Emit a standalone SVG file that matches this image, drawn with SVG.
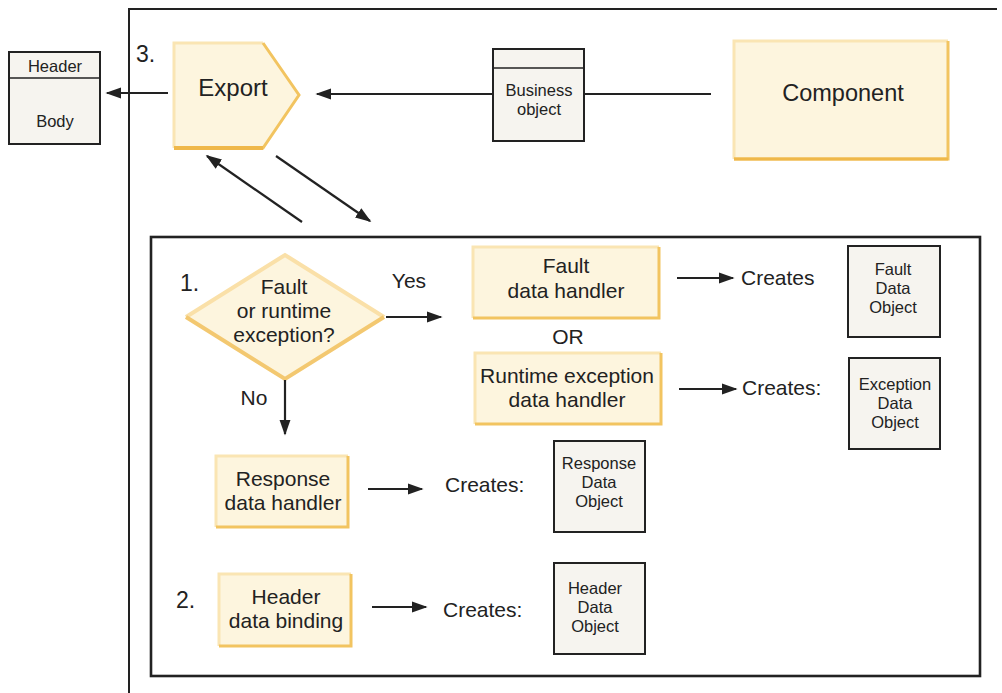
<svg xmlns="http://www.w3.org/2000/svg" width="1002" height="693" viewBox="0 0 1002 693">
<defs>
<marker id="ahb" viewBox="0 0 10 10" refX="9" refY="5" markerWidth="16" markerHeight="16" orient="auto" markerUnits="userSpaceOnUse">
<path d="M0,1.5 L10,5 L0,8.5 z" fill="#222"/>
</marker>
<style>
text{font-family:"Liberation Sans",Arial,sans-serif;fill:#222;text-anchor:middle}
.t20{font-size:21px}
.t19{font-size:21px}
.t15{font-size:16.5px}
.t22{font-size:24px}
.t23{font-size:23.5px}
.num{font-size:23px;text-anchor:start}
.lbl{font-size:21px;text-anchor:start}
.yf{fill:#fdf5de}
.lt{stroke:#fae5b3;stroke-width:3;fill:none}
.dk{stroke:#f2c460;stroke-width:3;fill:none}
.obj{fill:#f6f4ef;stroke:#222;stroke-width:2}
.con{stroke:#222;stroke-width:2.2;fill:none}
.arr{stroke:#222;stroke-width:2.2;fill:none;marker-end:url(#ahb)}
</style>
</defs>

<g id="frame">
<polyline points="129,693 129,9 997,9" fill="none" stroke="#222" stroke-width="2"/>
</g>

<g id="inner">
<rect x="151" y="237" width="829" height="439" fill="none" stroke="#222" stroke-width="2.6"/>
</g>

<g id="headerbody">
<rect x="9" y="52" width="91" height="92" class="obj"/>
<line x1="9" y1="78" x2="100" y2="78" stroke="#222" stroke-width="1.5"/>
<text x="55" y="72" class="t15">Header</text>
<text x="55" y="127" class="t15">Body</text>
</g>

<g id="label3"><text x="136" y="62" class="num">3.</text></g>

<g id="export">
<polygon points="174,43 263,43 299,95 263,148 174,148" class="yf"/>
<polyline points="174,148 174,43 263,43" class="lt"/>
<polyline points="263,43 299,95 263,148 174,148" class="dk"/>
<line x1="174" y1="148" x2="263" y2="148" stroke="#efb84a" stroke-width="4"/>
<text x="233" y="96" class="t22">Export</text>
</g>

<g id="businessobject">
<rect x="493" y="49" width="91" height="92" class="obj"/>
<line x1="493" y1="68" x2="584" y2="68" stroke="#222" stroke-width="1.5"/>
<text x="539" y="96" class="t15">Business</text>
<text x="539" y="115" class="t15">object</text>
</g>

<g id="component">
<rect x="734" y="41" width="214" height="118" class="yf"/>
<polyline points="734,159 734,41 948,41" class="lt"/>
<polyline points="948,41 948,159 734,159" class="dk"/>
<line x1="734" y1="159" x2="948" y2="159" stroke="#efb84a" stroke-width="3"/>
<text x="843" y="101" class="t23">Component</text>
</g>

<g id="decision">
<polygon points="186,317 285,255 384,317 285,379" class="yf"/>
<polyline points="186,317 285,255 384,317" stroke="#fae0a8" stroke-width="4" fill="none"/>
<polyline points="384,317 285,379 186,317" stroke="#f3c870" stroke-width="4" fill="none"/>
<text x="284" y="294" class="t19">Fault</text>
<text x="284" y="318" class="t19">or runtime</text>
<text x="284" y="342" class="t19">exception?</text>
</g>

<g id="label1"><text x="180" y="291" class="num">1.</text></g>
<g id="yes"><text x="409" y="288" class="t19">Yes</text></g>
<g id="no"><text x="254" y="405" class="t19">No</text></g>

<g id="faulthandler">
<rect x="473" y="247" width="186" height="71" class="yf"/>
<polyline points="473,318 473,247 659,247" class="lt"/>
<polyline points="659,247 659,318 473,318" class="dk"/>
<text x="566" y="273" class="t20">Fault</text>
<text x="566" y="298" class="t20">data handler</text>
</g>

<g id="or"><text x="568" y="344" class="t20">OR</text></g>

<g id="runtimehandler">
<rect x="475" y="353" width="186" height="71" class="yf"/>
<polyline points="475,424 475,353 661,353" class="lt"/>
<polyline points="661,353 661,424 475,424" class="dk"/>
<text x="567" y="383" class="t20">Runtime exception</text>
<text x="567" y="407" class="t20">data handler</text>
</g>

<g id="responsehandler">
<rect x="216" y="456" width="132" height="71" class="yf"/>
<polyline points="216,527 216,456 348,456" class="lt"/>
<polyline points="348,456 348,527 216,527" class="dk"/>
<text x="283" y="486" class="t20">Response</text>
<text x="283" y="510" class="t20">data handler</text>
</g>

<g id="label2"><text x="176" y="608" class="num">2.</text></g>

<g id="headerbinding">
<rect x="219" y="574" width="132" height="72" class="yf"/>
<polyline points="219,646 219,574 351,574" class="lt"/>
<polyline points="351,574 351,646 219,646" class="dk"/>
<text x="286" y="604" class="t20">Header</text>
<text x="286" y="628" class="t20">data binding</text>
</g>

<g id="creates1"><text x="741" y="285" class="lbl">Creates</text></g>
<g id="creates2"><text x="742" y="395" class="lbl">Creates:</text></g>
<g id="creates3"><text x="445" y="492" class="lbl">Creates:</text></g>
<g id="creates4"><text x="443" y="617" class="lbl">Creates:</text></g>

<g id="faultobj">
<rect x="848" y="246" width="92" height="91" class="obj"/>
<text x="893" y="275" class="t15">Fault</text>
<text x="893" y="294" class="t15">Data</text>
<text x="893" y="313" class="t15">Object</text>
</g>

<g id="exceptionobj">
<rect x="849" y="358" width="91" height="91" class="obj"/>
<text x="895" y="390" class="t15">Exception</text>
<text x="895" y="409" class="t15">Data</text>
<text x="895" y="428" class="t15">Object</text>
</g>

<g id="responseobj">
<rect x="554" y="441" width="91" height="91" class="obj"/>
<text x="599" y="469" class="t15">Response</text>
<text x="599" y="488" class="t15">Data</text>
<text x="599" y="507" class="t15">Object</text>
</g>

<g id="headerobj">
<rect x="554" y="563" width="91" height="91" class="obj"/>
<text x="595" y="594" class="t15">Header</text>
<text x="595" y="613" class="t15">Data</text>
<text x="595" y="632" class="t15">Object</text>
</g>

<g id="connectors">
<line x1="168" y1="93" x2="107" y2="93" class="arr"/>
<line x1="492" y1="94" x2="317" y2="94" class="arr"/>
<line x1="584" y1="94" x2="711" y2="94" class="con"/>
<line x1="302" y1="222" x2="207" y2="156" class="arr"/>
<line x1="276" y1="156" x2="370" y2="221" class="arr"/>
<line x1="386" y1="317" x2="441" y2="317" class="arr"/>
<line x1="285" y1="380" x2="285" y2="434" class="arr"/>
<line x1="677" y1="278" x2="733" y2="278" class="arr"/>
<line x1="679" y1="389" x2="736" y2="389" class="arr"/>
<line x1="368" y1="489" x2="422" y2="489" class="arr"/>
<line x1="372" y1="607" x2="426" y2="607" class="arr"/>
</g>
</svg>
